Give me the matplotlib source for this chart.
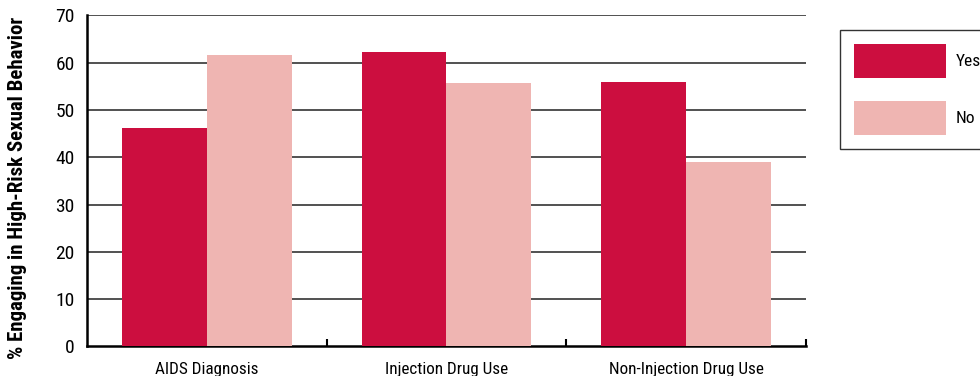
import numpy as np
import matplotlib
matplotlib.use("Agg")
import matplotlib.pyplot as plt
from matplotlib import font_manager

categories = ["AIDS Diagnosis", "Injection Drug Use", "Non-Injection Drug Use"]
yes_vals = [46.2, 62.2, 56.0]
no_vals = [61.6, 55.7, 39.1]
series_names = ["Yes", "No"]
y_ticks = [0, 10, 20, 30, 40, 50, 60, 70]

names = {f.name for f in font_manager.fontManager.ttflist}
fam = "Liberation Sans"
for cand in ["Liberation Sans Narrow", "DejaVu Sans Condensed", "Roboto Condensed",
             "Open Sans Condensed", "Noto Sans Condensed"]:
    if cand in names:
        fam = cand
        break
plt.rcParams["font.family"] = [fam, "DejaVu Sans"]

YES_C = "#CC0E3F"
NO_C = "#EFB5B2"

fig = plt.figure(figsize=(9.8, 3.76), dpi=100)
ax = fig.add_axes([0.0888, 0.0785, 0.7336, 0.8803])

x = np.arange(len(categories))
w = 0.354
ax.bar(x - w / 2, yes_vals, w, color=YES_C, label=series_names[0], zorder=3)
ax.bar(x + w / 2, no_vals, w, color=NO_C, label=series_names[1], zorder=3)

ax.set_xlim(-0.5, len(categories) - 0.5)
ax.set_ylim(0, 70)
ax.set_yticks(y_ticks)
ax.set_yticklabels([str(t) for t in y_ticks], fontsize=14)
ax.tick_params(axis="y", length=0, pad=9)
for t in y_ticks[1:]:
    ax.axhline(t, color="#222", lw=1.1, zorder=1)

ax.set_xticks(x)
ax.set_xticklabels(categories, fontsize=12.3)
ax.tick_params(axis="x", length=0, pad=11)
ax.set_xticks(np.arange(len(categories)) + 0.5, minor=True)
ax.tick_params(axis="x", which="minor", direction="in", length=5, width=1.5, color="black")

for s in ["top", "right"]:
    ax.spines[s].set_visible(False)
ax.spines["left"].set_linewidth(1.8)
ax.spines["bottom"].set_linewidth(1.8)

ax.set_ylabel("% Engaging in High-Risk Sexual Behavior", fontsize=15,
              fontweight="bold")
ax.yaxis.set_label_coords(-0.083, 0.48)

leg = ax.legend(loc="upper left", bbox_to_anchor=(840 / 980, 1 - 30 / 376),
                bbox_transform=fig.transFigure, fontsize=12.5, frameon=True,
                fancybox=False, edgecolor="black", handlelength=5.3,
                handleheight=2.65, labelspacing=1.3, handletextpad=0.55,
                borderpad=0.8, borderaxespad=0)
leg.get_frame().set_linewidth(1.0)

fig.savefig("out.png", dpi=100, facecolor="white")
